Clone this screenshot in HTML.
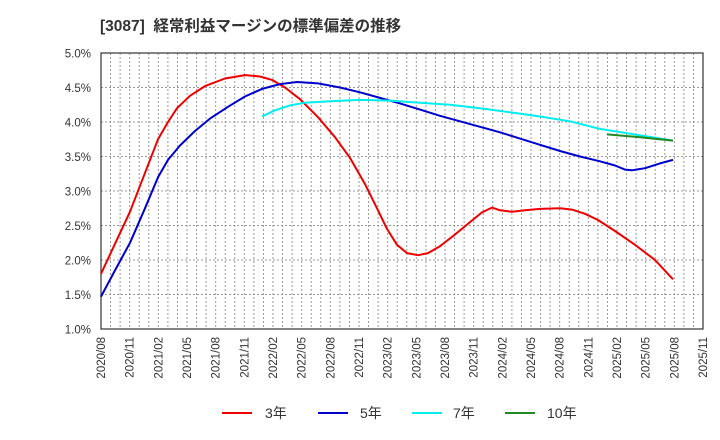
<!DOCTYPE html>
<html><head><meta charset="utf-8"><style>
body{margin:0;background:#fff;}
svg{display:block;font-family:"Liberation Sans","Noto Sans CJK JP",sans-serif;}
</style></head><body>
<svg id="s" width="720" height="440" xmlns="http://www.w3.org/2000/svg">
<text x="100" y="31" font-size="15.5" font-weight="bold" fill="#333" xml:space="preserve">[3087]  経常利益マージンの標準偏差の推移</text>
<g id="grid"></g>
<rect x="101" y="53" width="602" height="276" fill="none" stroke="#333" stroke-width="1.2"/>
<g id="lines"></g>
<g font-size="14" fill="#333">
<line x1="222" y1="413" x2="252" y2="413" stroke="#e00" stroke-width="2"/><text x="265" y="418">3年</text>
<line x1="318" y1="413" x2="348" y2="413" stroke="#00c" stroke-width="2"/><text x="360" y="418">5年</text>
<line x1="412" y1="413" x2="442" y2="413" stroke="#0ee" stroke-width="2"/><text x="453" y="418">7年</text>
<line x1="505" y1="413" x2="535" y2="413" stroke="#282" stroke-width="2"/><text x="547" y="418">10年</text>
</g>
</svg>
<script>
var ns="http://www.w3.org/2000/svg",g=document.getElementById('grid'),L=document.getElementById('lines');
function el(p,t,a,txt){var e=document.createElementNS(ns,t);for(var k in a)e.setAttribute(k,a[k]);if(txt)e.textContent=txt;p.appendChild(e);return e;}
var mw=602/63;
for(var m=1;m<63;m++){var x=101+m*mw;el(g,'line',{x1:x,y1:53,x2:x,y2:329,stroke:'#999','stroke-dasharray':'2,2','stroke-width':1});}
for(var i=0;i<=8;i++){var v=5-i*0.5,y=53+i*34.5;
if(i>0&&i<8)el(g,'line',{x1:101,y1:y,x2:703,y2:y,stroke:'#999','stroke-dasharray':'2,2','stroke-width':1});
el(g,'text',{x:91,y:y+4.5,'font-size':'11.5','text-anchor':'end',fill:'#333'},v.toFixed(1)+'%');}
var labs=[];for(var q=0;q<22;q++){var mm=7+q*3,yr=2020+Math.floor(mm/12),mo=mm%12+1;labs.push(yr+'/'+(mo<10?'0':'')+mo);}
labs.forEach(function(s,q){var x=101+q*3*mw;el(g,'text',{x:0,y:0,'font-size':'11.5',fill:'#333','text-anchor':'end',transform:'translate('+(x+4)+',337) rotate(-90)'},s);});
function Y(v){return 53+(5-v)*69;}
function path(pts,c){var d=pts.map(function(p,i){return (i?'L':'M')+p[0]+','+Y(p[1]).toFixed(1);}).join(' ');el(L,'path',{d:d,fill:'none',stroke:c,'stroke-width':2,'stroke-linejoin':'round'});}
path([[101,1.8],[130,2.7],[158,3.75],[168,4.0],[177,4.2],[190,4.38],[205,4.52],[225,4.63],[245,4.68],[260,4.66],[272,4.61],[285,4.5],[300,4.33],[318,4.07],[335,3.78],[350,3.48],[365,3.1],[377,2.75],[387,2.45],[397,2.22],[407,2.1],[418,2.07],[428,2.1],[440,2.2],[455,2.37],[470,2.55],[482,2.69],[492,2.76],[500,2.72],[512,2.7],[525,2.72],[540,2.74],[560,2.75],[572,2.73],[585,2.67],[598,2.58],[615,2.42],[635,2.22],[655,2.0],[673,1.72]],'#e00');
path([[101,1.47],[115,1.85],[130,2.25],[145,2.75],[158,3.2],[168,3.45],[180,3.66],[195,3.87],[210,4.05],[228,4.22],[245,4.37],[262,4.48],[280,4.55],[297,4.58],[318,4.56],[340,4.5],[360,4.43],[380,4.35],[400,4.27],[420,4.18],[440,4.09],[460,4.01],[480,3.93],[500,3.85],[520,3.76],[540,3.67],[560,3.58],[580,3.5],[600,3.43],[615,3.37],[625,3.31],[632,3.3],[645,3.33],[660,3.4],[673,3.45]],'#00c');
path([[262,4.08],[275,4.17],[290,4.24],[305,4.28],[330,4.3],[360,4.32],[390,4.31],[420,4.28],[450,4.25],[480,4.2],[510,4.14],[540,4.08],[570,4.01],[600,3.9],[630,3.83],[673,3.73]],'#0ee');
path([[607,3.82],[640,3.78],[673,3.73]],'#282');
</script>
</body></html>
